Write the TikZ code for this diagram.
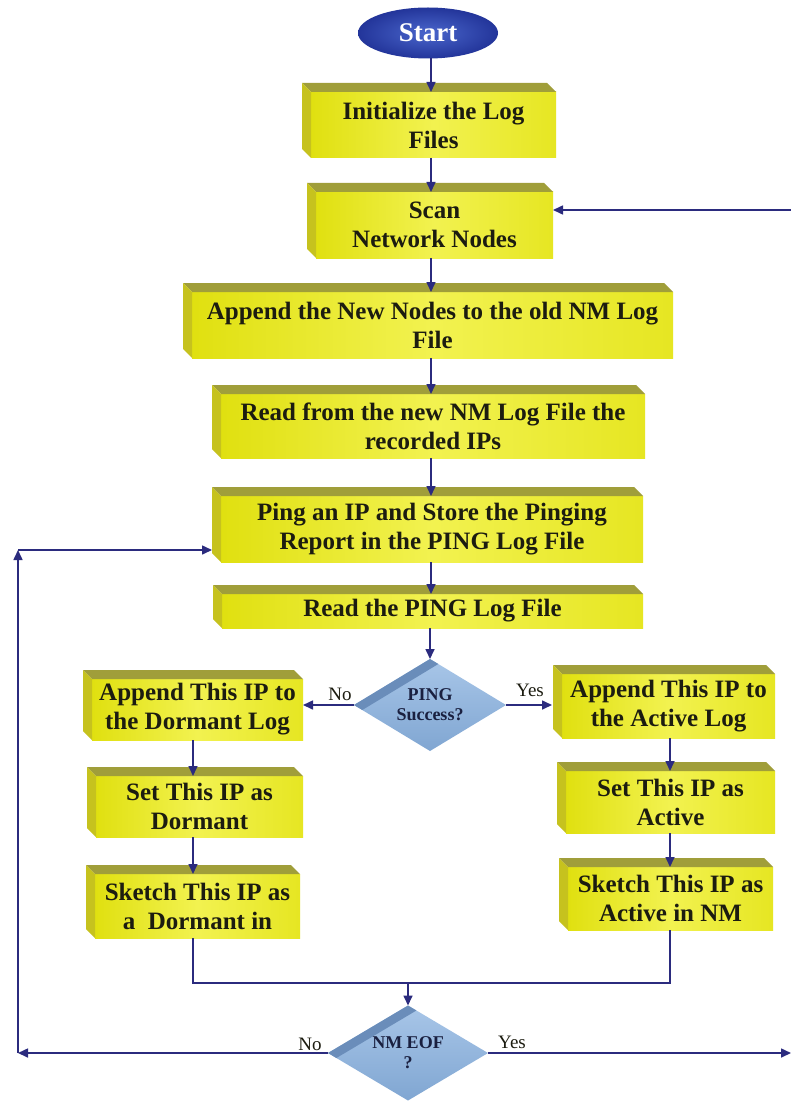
\documentclass[tikz,border=0pt]{standalone}
\usepackage{fontspec}
\setmainfont{Liberation Serif}
\usetikzlibrary{shapes.geometric,arrows.meta,calc}
\definecolor{arrc}{HTML}{2B2B7E}
\definecolor{frontL}{HTML}{E0E010}
\definecolor{frontM}{HTML}{F2F250}
\definecolor{frontR}{HTML}{E6E622}
\definecolor{topc}{HTML}{A09E3A}
\definecolor{sidec}{HTML}{C6C21E}
\definecolor{diaL}{HTML}{A8C6E8}
\definecolor{diaD}{HTML}{80A6D2}
\definecolor{diaB}{HTML}{6A8DBA}
\definecolor{startc}{HTML}{23359A}
\definecolor{startl}{HTML}{4A66CC}
\definecolor{txtc}{HTML}{1C1C10}
\definecolor{dtxt}{HTML}{1A2040}
\begin{document}
\begin{tikzpicture}[x=1pt,y=-1pt,
  box/.style={rectangle, inner sep=0pt, outer sep=0pt, left color=frontL, right color=frontR, middle color=frontM, align=center, text=txtc, font=\bfseries\fontsize{25}{29}\selectfont},
  startn/.style={ellipse, inner sep=0pt, outer sep=0pt, minimum width=140pt, minimum height=51pt, inner color=startl, outer color=startc, text=white, font=\bfseries\fontsize{27}{30}\selectfont},
  dia/.style={diamond, aspect=1.65, inner sep=0pt, outer sep=0pt, top color=diaL, bottom color=diaD, align=center, text=dtxt, font=\bfseries\fontsize{18}{20}\selectfont},
  lbl/.style={inner sep=0pt, text=txtc, font=\fontsize{19}{20}\selectfont},
  arr/.style={draw=arrc, line width=1.6pt, -{Triangle[length=10pt,width=9pt]}},
  ln/.style={draw=arrc, line width=1.6pt},
]
\fill[white] (0,0) rectangle (791,1102);
\useasboundingbox (0,0) rectangle (791,1102);

% nodes
\node[startn] (start) at (428,33) {Start};
\node[box, minimum width=245pt, minimum height=66pt] (init) at (433.5,125) {Initialize the Log\\Files};
\node[box, minimum width=237pt, minimum height=66pt] (scan) at (434.5,225) {Scan\\Network Nodes};
\node[box, minimum width=481pt, minimum height=66pt] (append) at (432.5,325) {Append the New Nodes to the old NM Log\\File};
\node[box, minimum width=424pt, minimum height=64pt] (readnm) at (433,426) {Read from the new NM Log File the\\recorded IPs};
\node[box, minimum width=422pt, minimum height=66pt] (ping) at (432,529) {Ping an IP and Store the Pinging\\Report in the PING Log File};
\node[box, minimum width=421pt, minimum height=34pt] (readping) at (432.5,611) {Read the PING Log File};
\node[box, minimum width=211pt, minimum height=61pt] (appdorm) at (197.5,709.5) {Append This IP to\\the Dormant Log};
\node[box, minimum width=207pt, minimum height=61pt] (setdorm) at (199.5,806.5) {Set This IP as\\Dormant};
\node[box, minimum width=205pt, minimum height=64pt] (skdorm) at (197.5,906) {Sketch This IP as\\a\ \ Dormant in};
\node[box, minimum width=213pt, minimum height=64pt] (appact) at (668.5,706) {Append This IP to\\the Active Log};
\node[box, minimum width=209pt, minimum height=62pt] (setact) at (670.5,802) {Set This IP as\\Active};
\node[box, minimum width=205pt, minimum height=63pt] (skact) at (670.5,898.5) {Sketch This IP as\\Active in NM};

% bevels
\foreach \n in {init,scan,append,readnm,ping,readping,appdorm,setdorm,skdorm,appact,setact,skact}{
  \fill[topc] (\n.north west) -- ++(-9,-9) -- ($(\n.north east)+(-9,-9)$) -- (\n.north east) -- cycle;
  \fill[sidec] (\n.north west) -- ++(-9,-9) -- ($(\n.south west)+(-9,-9)$) -- (\n.south west) -- cycle;
}

% decisions
\node[dia, minimum width=152pt, minimum height=92pt] (pingd) at (430,705) {PING\\Success?};
\fill[diaB] (pingd.west) -- (pingd.north) -- ++(8.3,5) -- ($(pingd.west)+(8.3,5)$) -- cycle;
\node[dia, minimum width=160pt, minimum height=95pt] (eof) at (408,1053) {NM EOF\\?};
\fill[diaB] (eof.west) -- (eof.north) -- ++(8.4,5) -- ($(eof.west)+(8.4,5)$) -- cycle;

% labels
\node[lbl] (noP) at (340,694) {No};
\node[lbl] (yesP) at (530,690) {Yes};
\node[lbl] (noE) at (310,1044) {No};
\node[lbl] (yesE) at (512,1042) {Yes};

% helper coordinates
\coordinate (mx) at (431,0);
\coordinate (lcol) at (193,0);
\coordinate (rcol) at (670,0);
\coordinate (mg) at (408,983);
\coordinate (rtop) at (791,210);
\coordinate (rgt) at (791,0);
\coordinate (loopL) at (18,550);

% main column
\draw[arr] (start.south -| mx) -- (init.north -| mx);
\draw[arr] (init.south -| mx) -- (scan.north -| mx);
\draw[arr] (scan.south -| mx) -- (append.north -| mx);
\draw[arr] (append.south -| mx) -- (readnm.north -| mx);
\draw[arr] (readnm.south -| mx) -- (ping.north -| mx);
\draw[arr] (ping.south -| mx) -- (readping.north -| mx);
\draw[arr] (readping.south -| pingd.north) -- (pingd.north);

% branches
\draw[arr] (pingd.west) -- (pingd.west -| appdorm.east);
\draw[arr, shorten >=10pt] (pingd.east) -- (pingd.east -| appact.west);
\draw[arr] (appdorm.south -| lcol) -- (setdorm.north -| lcol);
\draw[arr] (setdorm.south -| lcol) -- (skdorm.north -| lcol);
\draw[arr] (appact.south -| rcol) -- (setact.north -| rcol);
\draw[arr] (setact.south -| rcol) -- (skact.north -| rcol);

% merge
\draw[ln] (skdorm.south -| lcol) -- (lcol |- mg) -- (rcol |- mg) -- (skact.south -| rcol);
\draw[arr] (mg) -- (eof.north);

% loops
\draw[arr] (eof.west) -- (eof.west -| loopL);
\draw[arr] (eof.west -| loopL) -- (loopL);
\draw[arr, shorten >=9pt] (loopL) -- (loopL -| ping.west);
\draw[arr] (eof.east) -- (eof.east -| rgt);
\draw[arr] (rtop) -- (rtop -| scan.east);
\end{tikzpicture}
\end{document}
